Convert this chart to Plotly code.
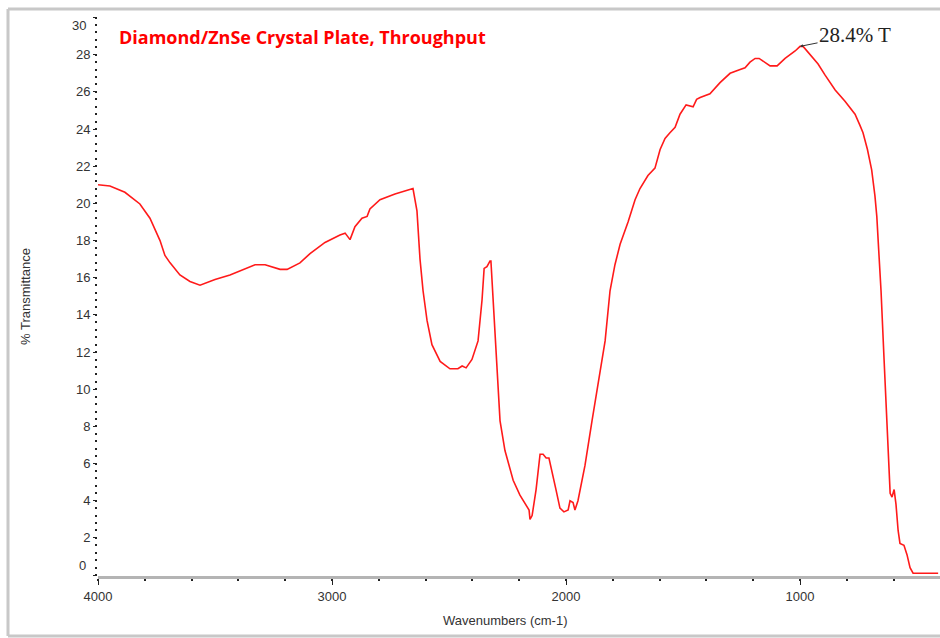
import plotly.graph_objects as go

# Data
wavenumber = [4000, 3949, 3885, 3821, 3778, 3735, 3714, 3692, 3650, 3607, 3564, 3543, 3500,
              3436, 3372, 3329, 3286, 3222, 3192, 3137, 3094, 3030, 2966, 2944, 2923, 2902,
              2872, 2850, 2838, 2795, 2731, 2667, 2654, 2637, 2624, 2611, 2594, 2573, 2538,
              2496, 2462, 2444, 2427, 2402, 2376, 2359, 2350, 2338, 2325, 2321, 2312, 2299,
              2282, 2261, 2226, 2197, 2171, 2158, 2154, 2145, 2128, 2111, 2098, 2085, 2073,
              2056, 2043, 2026, 2009, 1991, 1983, 1970, 1962, 1949, 1919, 1889, 1855, 1833,
              1812, 1791, 1769, 1735, 1705, 1684, 1650, 1620, 1598, 1577, 1556, 1534, 1513,
              1487, 1457, 1442, 1427, 1385, 1342, 1299, 1256, 1235, 1214, 1192, 1175, 1150, 1128,
              1098, 1064, 1021, 1000, 987, 966, 923, 893, 850, 808, 765, 744, 731, 712, 694, 680,
              672, 664, 654, 641, 628, 620, 615, 607, 598, 590, 581, 573, 556, 543, 530, 517, 410]
transmittance = [21.0, 20.94, 20.6, 19.97, 19.2, 18.0, 17.2, 16.8, 16.15, 15.8, 15.6, 15.7, 15.9,
                 16.15, 16.5, 16.7, 16.7, 16.45, 16.45, 16.8, 17.3, 17.9, 18.3, 18.4, 18.05, 18.75,
                 19.2, 19.3, 19.7, 20.2, 20.5, 20.76, 20.8, 19.6, 17.0, 15.3, 13.7, 12.4, 11.5,
                 11.1, 11.1, 11.25, 11.15, 11.6, 12.6, 14.8, 16.5, 16.6, 16.9, 16.9, 14.8, 11.6,
                 8.3, 6.7, 5.1, 4.3, 3.8, 3.5, 3.0, 3.2, 4.6, 6.5, 6.5, 6.3, 6.3,
                 5.4, 4.6, 3.6, 3.4, 3.5, 4.0, 3.9, 3.5, 4.0, 5.9, 8.3, 10.8, 12.6,
                 15.3, 16.7, 17.8, 19.0, 20.2, 20.8, 21.5, 21.9, 22.9, 23.5, 23.8, 24.1, 24.8,
                 25.3, 25.2, 25.6, 25.7, 25.9, 26.5, 27.0, 27.2, 27.3, 27.6, 27.8, 27.8, 27.6, 27.4,
                 27.4, 27.8, 28.2, 28.45, 28.45, 28.15, 27.5, 26.9, 26.1, 25.5, 24.8, 24.2, 23.8, 22.9, 21.8, 20.4,
                 19.3, 17.5, 15.3, 11.6, 8.3, 5.65, 4.4, 4.2, 4.6, 3.8, 2.4, 1.7, 1.6, 1.1, 0.4, 0.1, 0.1]

x_major_ticks = [4000, 3000, 2000, 1000]
y_major_ticks = [0, 2, 4, 6, 8, 10, 12, 14, 16, 18, 20, 22, 24, 26, 28, 30]
y_tick_text = ["", "2", "4", "6", "8", "10", "12", "14", "16", "18", "20", "22", "24", "26", "28", ""]

title_text = "Diamond/ZnSe Crystal Plate, Throughput"
peak_label = "28.4% T"
peak_x, peak_y = 1000, 28.45

W, H = 940, 638
L, R, T = 98, 0, 17
B = H - 576
pw, ph = W - L - R, H - T - B


def px(xp):
    return (xp - L) / pw


def py(yp):
    return (H - B - yp) / ph


fig = go.Figure()
fig.add_trace(go.Scatter(x=wavenumber, y=transmittance, mode="lines",
                         line=dict(color="#ff1a1a", width=1.6), hoverinfo="skip",
                         showlegend=False))

tickfont = dict(family="Liberation Sans, Arial, sans-serif", size=13, color="#333333")

fig.update_layout(
    width=W, height=H,
    margin=dict(l=L, r=R, t=T, b=B),
    paper_bgcolor="white", plot_bgcolor="white",
    showlegend=False,
    xaxis=dict(range=[4000, 402], tickvals=x_major_ticks, ticks="outside", ticklen=6,
               tickwidth=1, tickcolor="#222222", showgrid=False, zeroline=False,
               showline=True, linecolor="#b4b4b4", linewidth=3, tickfont=tickfont,
               minor=dict(dtick=200, ticks="outside", ticklen=2, tickwidth=2,
                          tickcolor="#222222", showgrid=False)),
    yaxis=dict(range=[-0.05, 30.03], tickvals=y_major_ticks, ticktext=y_tick_text,
               ticks="outside", ticklen=4, tickwidth=1, tickcolor="#222222",
               showgrid=False, zeroline=False, showline=False, tickfont=tickfont,
               title=dict(text="% Transmittance", font=tickfont, standoff=42),
               minor=dict(dtick=0.4, ticks="outside", ticklen=2, tickwidth=2,
                          tickcolor="#222222", showgrid=False)),
)

annotations = [
    dict(x=px(88), y=py(565), xref="paper", yref="paper", text="0", showarrow=False,
         xanchor="right", yanchor="middle", font=tickfont),
    dict(x=px(88), y=py(26), xref="paper", yref="paper", text="30", showarrow=False,
         xanchor="right", yanchor="middle", font=tickfont),
    dict(x=px(505), y=py(620), xref="paper", yref="paper", text="Wavenumbers (cm-1)",
         showarrow=False, xanchor="center", yanchor="middle", font=tickfont),
    dict(x=px(117), y=py(37), xref="paper", yref="paper", text="<b>" + title_text + "</b>",
         showarrow=False, xanchor="left", yanchor="middle",
         font=dict(family="Open Sans, sans-serif", size=18, color="#ff0000")),
    dict(x=peak_x, y=peak_y, xref="x", yref="y", text=peak_label, showarrow=True,
         arrowhead=2, arrowsize=0.6, arrowwidth=1, arrowcolor="#333333",
         ax=55, ay=-11, xanchor="center", yanchor="middle",
         font=dict(family="Liberation Serif, Times New Roman, serif", size=21, color="#222222")),
]
fig.update_layout(annotations=annotations)

# outer frame of the screenshot
border = dict(color="#c8c8c8", width=3)
fig.add_shape(type="line", xref="paper", yref="paper", x0=px(8), x1=px(940), y0=py(9), y1=py(9), line=border)
fig.add_shape(type="line", xref="paper", yref="paper", x0=px(8), x1=px(8), y0=py(9), y1=py(636), line=border)
fig.add_shape(type="line", xref="paper", yref="paper", x0=px(8), x1=px(940), y0=py(636), y1=py(636), line=border)

fig.write_html(
    "out.html",
    config={"displayModeBar": False},
    post_script="document.body.style.margin='0';document.body.style.overflow='hidden';",
)
